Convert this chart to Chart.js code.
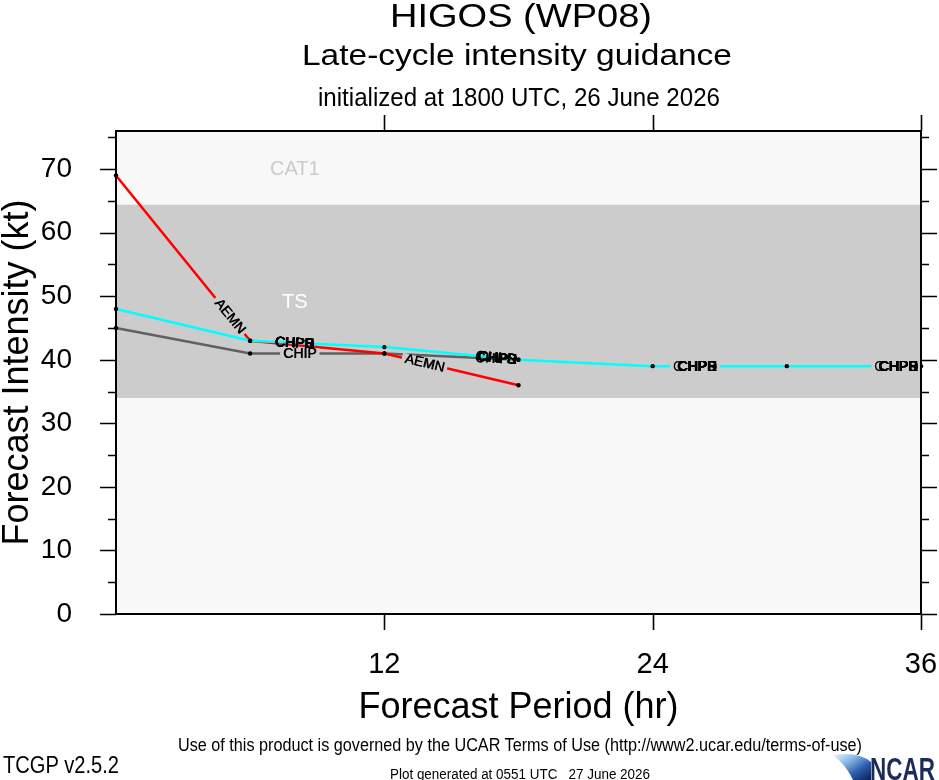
<!DOCTYPE html>
<html>
<head>
<meta charset="utf-8">
<script src="https://cdn.jsdelivr.net/npm/chart.js@4.4.0/dist/chart.umd.min.js"></script>
<style>
html,body{margin:0;padding:0;background:#fff;}
#wrap{position:relative;width:939px;height:780px;overflow:hidden;}
#c{position:absolute;left:0;top:0;}
#ov{position:absolute;left:0;top:0;pointer-events:none;}
#ov text{font-family:"Liberation Sans",Arial,Helvetica,sans-serif;fill:#000;}
</style>
</head>
<body>
<div id="wrap">
<canvas id="c" width="939" height="780"></canvas>
<svg id="ov" width="939" height="780" viewBox="0 0 939 780">
  <defs>
    <linearGradient id="sw" x1="0" y1="0" x2="1" y2="1">
      <stop offset="0" stop-color="#eef5fc"/>
      <stop offset="0.35" stop-color="#86b6e4"/>
      <stop offset="0.65" stop-color="#2d5eb0"/>
      <stop offset="1" stop-color="#0c1d50"/>
    </linearGradient>
  </defs>
  <text x="390" y="27" font-size="33" textLength="262" lengthAdjust="spacingAndGlyphs">HIGOS (WP08)</text>
  <text x="302" y="65" font-size="30" textLength="430" lengthAdjust="spacingAndGlyphs">Late-cycle intensity guidance</text>
  <text x="318" y="106" font-size="25" textLength="402" lengthAdjust="spacingAndGlyphs">initialized at 1800 UTC, 26 June 2026</text>
  <text x="178" y="751" font-size="17.5" textLength="684" lengthAdjust="spacingAndGlyphs">Use of this product is governed by the UCAR Terms of Use (http://www2.ucar.edu/terms-of-use)</text>
  <text x="3" y="773" font-size="23" textLength="116" lengthAdjust="spacingAndGlyphs">TCGP v2.5.2</text>
  <text x="390" y="779" font-size="14" textLength="260" lengthAdjust="spacingAndGlyphs" style="white-space:pre">Plot generated at 0551 UTC   27 June 2026</text>
  <path d="M833,755 Q858,751 871,762 L871,780 L853,780 Q846,765 833,755 Z" fill="url(#sw)"/>
  <text x="870" y="780" font-size="31" font-weight="bold" textLength="65" lengthAdjust="spacingAndGlyphs" style="fill:#1d2b5a">NCAR</text>
</svg>
</div>
<script>
// ---- data ----
const hours = [0, 6, 12, 18, 24, 30, 36];
const aemn  = [69, 43, 41, 36];
const chip  = [45, 41, 41, 40];
const cyanModel = [48, 43, 42, 40, 39, 39, 39];
const xTickValues = [12, 24, 36];
const yMin = 0, yMax = 76;
const tsBand = [34, 64.4];
const cat1Band = [64.4, 76];
const bandNames = ['TS', 'CAT1'];

const FONT = '"Liberation Sans", Arial, Helvetica, sans-serif';
Chart.defaults.font.family = FONT;

function pts(vals) { return vals.map((v, i) => ({x: hours[i], y: v})); }

// labels drawn along the lines (dataset index, segment, fraction along segment)
const blob = ['CHPE', 'CHPB', 'CHPR', 'CHPS', 'CHPD'];
const lineLabels = [
  {ds: 1, seg: 0, t: 0.85, texts: ['AEMN'], gap: true, shift: 0},
  {ds: 1, seg: 2, t: 0.30, texts: ['AEMN'], gap: true, shift: 0},
  {ds: 2, seg: 1, t: 0.37, texts: ['CHIP'], gap: true, shift: 0},
  {ds: 2, seg: 2, t: 0.80, texts: ['CHIP'], gap: false, shift: 0},
  {ds: 0, seg: 1, t: 0.33, texts: blob, gap: false, shift: 0},
  {ds: 0, seg: 2, t: 0.84, texts: blob, gap: false, shift: 2},
  {ds: 0, seg: 4, t: 0.33, texts: blob, gap: true, shift: 4},
  {ds: 0, seg: 5, t: 0.83, texts: blob, gap: true, shift: 4}
];

const decor = {
  id: 'decor',
  beforeDatasetsDraw(chart) {
    const {ctx, chartArea: a, scales: {x, y}} = chart;
    ctx.save();
    ctx.fillStyle = '#f8f8f8';
    ctx.fillRect(a.left, a.top, a.right - a.left, a.bottom - a.top);
    const t1 = y.getPixelForValue(tsBand[1]), t0 = y.getPixelForValue(tsBand[0]);
    ctx.fillStyle = '#cccccc';
    ctx.fillRect(a.left, t1, a.right - a.left, t0 - t1);
    ctx.font = '20px ' + FONT;
    ctx.textAlign = 'center';
    ctx.textBaseline = 'middle';
    ctx.fillStyle = '#ffffff';
    ctx.fillText(bandNames[0], x.getPixelForValue(8), y.getPixelForValue(49));
    ctx.fillStyle = '#cbcbcb';
    ctx.fillText(bandNames[1], x.getPixelForValue(8), y.getPixelForValue(70));
    ctx.restore();
  },
  afterDatasetsDraw(chart) {
    const {ctx, chartArea: a, scales: {x, y}} = chart;
    ctx.save();
    ctx.font = '14px ' + FONT;
    ctx.textBaseline = 'middle';
    lineLabels.forEach(L => {
      const meta = chart.getDatasetMeta(L.ds);
      const p0 = meta.data[L.seg], p1 = meta.data[L.seg + 1];
      const px = p0.x + L.t * (p1.x - p0.x);
      const py = p0.y + L.t * (p1.y - p0.y);
      const ang = Math.atan2(p1.y - p0.y, p1.x - p0.x);
      ctx.save();
      ctx.translate(px, py);
      ctx.rotate(ang);
      ctx.textAlign = 'center';
      const w = Math.max(...L.texts.map(s => ctx.measureText(s).width));
      if (L.gap) {
        ctx.fillStyle = '#cccccc';
        ctx.fillRect(-w / 2 - 3 - L.shift, -5, w + 6 + L.shift, 10);
      }
      ctx.fillStyle = '#000';
      L.texts.forEach(s => {
        ctx.fillText(s, 0, 0.5);
        ctx.fillText(s, 0.6, 0.5);
      });
      if (L.shift) {
        ctx.textAlign = 'left';
        ctx.fillText('C', -w / 2 - L.shift, 0.5);
      }
      ctx.restore();
    });
    // frame
    ctx.strokeStyle = '#000';
    ctx.lineWidth = 2;
    ctx.strokeRect(a.left, a.top, a.right - a.left, a.bottom - a.top);
    // y ticks on left and right (outward)
    ctx.lineWidth = 1.6;
    ctx.beginPath();
    for (let v = 0; v <= 75; v += 5) {
      const py = Math.round(y.getPixelForValue(v)) + 0.5;
      const len = v % 10 === 0 ? 16 : 8;
      ctx.moveTo(a.left - len, py); ctx.lineTo(a.left, py);
      ctx.moveTo(a.right, py); ctx.lineTo(a.right + len, py);
    }
    // x ticks on top and bottom (outward)
    xTickValues.forEach(v => {
      const px = Math.round(x.getPixelForValue(v)) + 0.5;
      ctx.moveTo(px, a.bottom); ctx.lineTo(px, a.bottom + 16);
      ctx.moveTo(px, a.top); ctx.lineTo(px, a.top - 16);
    });
    ctx.stroke();
    ctx.restore();
  }
};

const common = {
  fill: false, borderWidth: 2.5, tension: 0,
  pointRadius: 2.2, pointBackgroundColor: '#000', pointBorderWidth: 0,
  pointHoverRadius: 2.2, clip: 6
};

new Chart(document.getElementById('c'), {
  type: 'line',
  data: {
    datasets: [
      Object.assign({label: 'CHIPS', data: pts(cyanModel), borderColor: '#00ffff'}, common),
      Object.assign({label: 'AEMN', data: pts(aemn), borderColor: '#ff0000'}, common),
      Object.assign({label: 'CHIP', data: pts(chip), borderColor: '#606060'}, common)
    ]
  },
  options: {
    responsive: false,
    animation: false,
    devicePixelRatio: 1,
    layout: {padding: {left: 0, right: 18, top: 131, bottom: 0}},
    plugins: {legend: {display: false}, tooltip: {enabled: false}},
    events: [],
    scales: {
      x: {
        type: 'linear', position: 'bottom', min: 0, max: 36,
        grid: {display: false}, border: {display: false},
        ticks: {stepSize: 12, autoSkip: false, maxRotation: 0, padding: 26, color: '#000',
                font: {size: 29}, callback: v => (v === 0 ? '' : String(v))},
        title: {display: true, text: 'Forecast Period (hr)', color: '#000',
                font: {size: 36}, padding: {top: 0, bottom: 50}},
        afterFit: s => { s.height = 166; s.paddingLeft = 0; s.paddingRight = 0; }
      },
      y: {
        type: 'linear', position: 'left', min: yMin, max: yMax,
        grid: {display: false}, border: {display: false},
        ticks: {stepSize: 5, includeBounds: false, autoSkip: false, padding: 36, color: '#000',
                font: {size: 28}, callback: v => (v % 10 === 0 ? String(v) : '')},
        title: {display: true, text: 'Forecast Intensity (kt)', color: '#000',
                font: {size: 36}, padding: {top: -4, bottom: 0}},
        afterFit: s => { s.width = 116; s.paddingTop = 0; s.paddingBottom = 0; }
      }
    }
  },
  plugins: [decor]
});
</script>
</body>
</html>
